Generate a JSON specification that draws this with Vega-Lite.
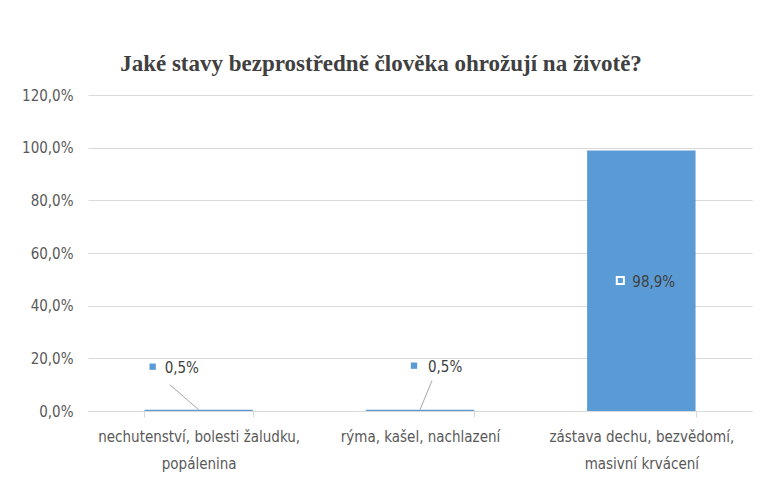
{
  "$schema": "https://vega.github.io/schema/vega-lite/v6.json",
  "width": 664,
  "height": 316,
  "autosize": {"type": "none"},
  "padding": {"left": 88, "top": 95, "right": 9, "bottom": 71},
  "background": "white",
  "title": {
    "text": "Jaké stavy bezprostředně člověka ohrožují na životě?",
    "font": "Liberation Serif",
    "fontSize": 23,
    "fontWeight": "bold",
    "color": "#404040",
    "anchor": "middle",
    "dx": -39,
    "dy": 31,
    "baseline": "alphabetic",
    "offset": 25
  },
  "data": {
    "values": [
      {"category": "nechutenství, bolesti žaludku, popálenina", "value": 0.5, "label": "0,5%"},
      {"category": "rýma, kašel, nachlazení", "value": 0.5, "label": "0,5%"},
      {"category": "zástava dechu, bezvědomí, masivní krvácení", "value": 98.9, "label": "98,9%"}
    ]
  },
  "encoding": {
    "x": {
      "field": "category",
      "type": "nominal",
      "sort": null,
      "scale": {"paddingInner": 0.51, "paddingOuter": 0.255},
      "axis": {
        "title": null,
        "labelAngle": 0,
        "labelFont": "DejaVu Sans Condensed, sans-serif",
        "labelFontSize": 15,
        "labelColor": "#595959",
        "labelLineHeight": 27,
        "labelPadding": 12,
        "labelLimit": 300,
        "tickBand": "extent",
        "tickSize": 6,
        "tickColor": "#D9D9D9",
        "domainColor": "#D9D9D9",
        "zindex": 1,
        "labelExpr": "datum.value == 'nechutenství, bolesti žaludku, popálenina' ? ['nechutenství, bolesti žaludku,', 'popálenina'] : datum.value == 'zástava dechu, bezvědomí, masivní krvácení' ? ['zástava dechu, bezvědomí,', 'masivní krvácení'] : datum.value"
      }
    }
  },
  "layer": [
    {
      "mark": {"type": "bar", "color": "#5B9BD5"},
      "encoding": {
        "y": {
          "field": "value",
          "type": "quantitative",
          "scale": {"domain": [0, 120]},
          "axis": {
            "title": null,
            "values": [0, 20, 40, 60, 80, 100, 120],
            "labelExpr": "replace(format(datum.value, '.1f'), '.', ',') + '%'",
            "labelFont": "DejaVu Sans Condensed, sans-serif",
            "labelFontSize": 15,
            "labelColor": "#595959",
            "labelPadding": 15,
            "domain": false,
            "ticks": false,
            "grid": true,
            "gridColor": "#D9D9D9",
            "gridWidth": 1
          }
        }
      }
    },
    {
      "transform": [{"filter": "datum.category == 'nechutenství, bolesti žaludku, popálenina'"}],
      "layer": [
        {
          "mark": {"type": "rule", "color": "#A6A6A6", "strokeWidth": 1, "x2Offset": -29, "y2Offset": -25},
          "encoding": {"x2": {"field": "category"}, "y": {"field": "value", "type": "quantitative"}, "y2": {"field": "value"}}
        },
        {
          "mark": {"type": "point", "shape": "square", "filled": true, "color": "#5B9BD5", "opacity": 1, "size": 40, "xOffset": -46, "yOffset": -43},
          "encoding": {"y": {"field": "value", "type": "quantitative"}}
        },
        {
          "mark": {"type": "text", "align": "left", "baseline": "middle", "dx": -34, "yOffset": -42, "font": "DejaVu Sans Condensed, sans-serif", "fontSize": 15, "color": "#404040"},
          "encoding": {"y": {"field": "value", "type": "quantitative"}, "text": {"field": "label"}}
        }
      ]
    },
    {
      "transform": [{"filter": "datum.category == 'rýma, kašel, nachlazení'"}],
      "layer": [
        {
          "mark": {"type": "rule", "color": "#A6A6A6", "strokeWidth": 1, "x2Offset": 12, "y2Offset": -29},
          "encoding": {"x2": {"field": "category"}, "y": {"field": "value", "type": "quantitative"}, "y2": {"field": "value"}}
        },
        {
          "mark": {"type": "point", "shape": "square", "filled": true, "color": "#5B9BD5", "opacity": 1, "size": 40, "xOffset": -6, "yOffset": -44},
          "encoding": {"y": {"field": "value", "type": "quantitative"}}
        },
        {
          "mark": {"type": "text", "align": "left", "baseline": "middle", "dx": 8, "yOffset": -43, "font": "DejaVu Sans Condensed, sans-serif", "fontSize": 15, "color": "#404040"},
          "encoding": {"y": {"field": "value", "type": "quantitative"}, "text": {"field": "label"}}
        }
      ]
    },
    {
      "transform": [{"filter": "datum.category == 'zástava dechu, bezvědomí, masivní krvácení'"}],
      "layer": [
        {
          "mark": {"type": "point", "shape": "square", "filled": true, "fill": "#5B9BD5", "stroke": "white", "strokeWidth": 2, "opacity": 1, "size": 50, "xOffset": -21, "yOffset": 130},
          "encoding": {"y": {"field": "value", "type": "quantitative"}}
        },
        {
          "mark": {"type": "text", "align": "left", "baseline": "middle", "dx": -9, "yOffset": 131, "font": "DejaVu Sans Condensed, sans-serif", "fontSize": 15, "color": "#404040"},
          "encoding": {"y": {"field": "value", "type": "quantitative"}, "text": {"field": "label"}}
        }
      ]
    }
  ],
  "config": {"view": {"stroke": null}}
}
